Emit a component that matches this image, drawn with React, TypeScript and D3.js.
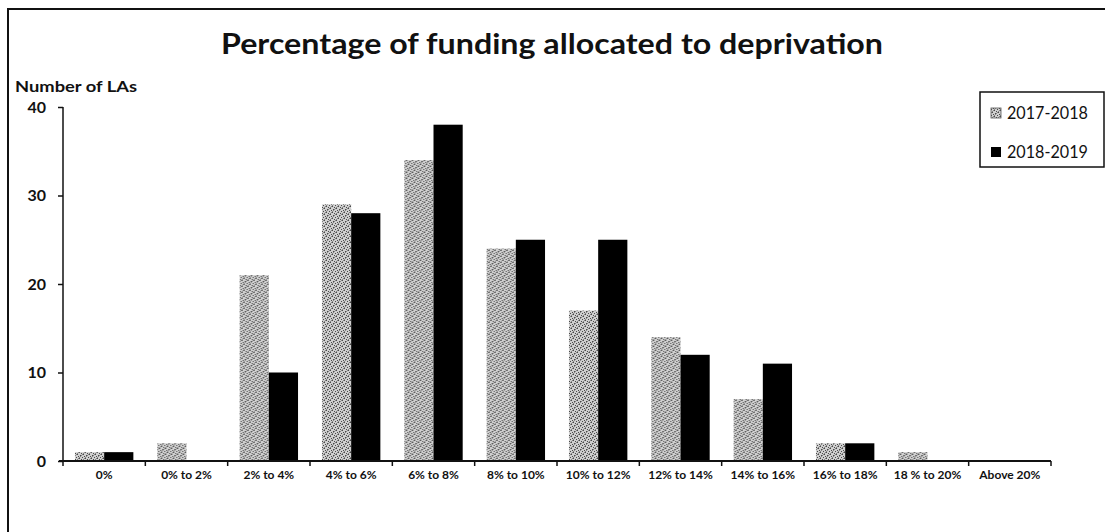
import React, { useEffect, useRef } from 'react';
import * as d3 from 'd3';

const categories = ['0%', '0% to 2%', '2% to 4%', '4% to 6%', '6% to 8%', '8% to 10%', '10% to 12%', '12% to 14%', '14% to 16%', '16% to 18%', '18 % to 20%', 'Above 20%'];
const seriesNames = ['2017-2018', '2018-2019'];
const values2017 = [1, 2, 21, 29, 34, 24, 17, 14, 7, 2, 1, 0];
const values2018 = [1, 0, 10, 28, 38, 25, 25, 12, 11, 2, 0, 0];
const yTicks = [0, 10, 20, 30, 40];

const FONT = 'Lato, "Open Sans", sans-serif';

const App: React.FC = () => {
  const svgRef = useRef<SVGSVGElement>(null);

  useEffect(() => {
    if (!svgRef.current) return;
    const svg = d3.select(svgRef.current);
    svg.selectAll('*').remove();

    const plot = { left: 63, right: 1051, top: 107, bottom: 461 };

    // stipple pattern for the 2017-2018 bars
    const defs = svg.append('defs');
    const pat = defs.append('pattern')
      .attr('id', 'stipple')
      .attr('patternUnits', 'userSpaceOnUse')
      .attr('width', 6)
      .attr('height', 6);
    pat.append('rect').attr('width', 6).attr('height', 6).attr('fill', '#cfcfcf');
    pat.append('path')
      .attr('d', 'M0,6 L6,0 M-1,1 L1,-1 M5,7 L7,5')
      .attr('stroke', '#858585')
      .attr('stroke-width', 1);
    const dots = [[1, 1], [4, 2], [2, 4], [5, 5], [0, 3], [3, 0]];
    dots.forEach(([dx, dy]) => {
      pat.append('rect').attr('x', dx).attr('y', dy).attr('width', 1).attr('height', 1).attr('fill', '#4a4a4a');
    });

    // outer frame
    svg.append('rect')
      .attr('x', 8).attr('y', 9)
      .attr('width', 1110).attr('height', 540)
      .attr('fill', 'white')
      .attr('stroke', '#111')
      .attr('stroke-width', 2);

    // title
    svg.append('text')
      .attr('x', 552).attr('y', 54)
      .attr('text-anchor', 'middle')
      .attr('font-family', FONT)
      .attr('font-weight', 'bold')
      .attr('font-size', 29)
      .attr('textLength', 662)
      .attr('lengthAdjust', 'spacingAndGlyphs')
      .attr('fill', '#111')
      .text('Percentage of funding allocated to deprivation');

    svg.append('text')
      .attr('x', 15).attr('y', 92)
      .attr('font-family', FONT)
      .attr('font-weight', 'bold')
      .attr('font-size', 16)
      .attr('textLength', 122)
      .attr('lengthAdjust', 'spacingAndGlyphs')
      .attr('fill', '#111')
      .text('Number of LAs');

    const x0 = d3.scaleBand<string>()
      .domain(categories)
      .range([plot.left, plot.right])
      .paddingInner(0)
      .paddingOuter(0);

    const x1 = d3.scaleBand<string>()
      .domain(seriesNames)
      .range([0, x0.bandwidth()])
      .paddingInner(0)
      .paddingOuter(0.41);

    const y = d3.scaleLinear()
      .domain([0, 40])
      .range([plot.bottom, plot.top]);

    const rows = categories.map((c, i) => ({ cat: c, vals: [values2017[i], values2018[i]] }));

    const groups = svg.append('g')
      .selectAll('g')
      .data(rows)
      .enter()
      .append('g')
      .attr('transform', d => `translate(${x0(d.cat)},0)`);

    groups.selectAll('rect')
      .data(d => d.vals.map((v, j) => ({ name: seriesNames[j], value: v })))
      .enter()
      .filter(d => d.value > 0)
      .append('rect')
      .attr('x', d => x1(d.name)!)
      .attr('y', d => y(d.value))
      .attr('width', x1.bandwidth())
      .attr('height', d => y(0) - y(d.value))
      .attr('fill', d => (d.name === '2017-2018' ? 'url(#stipple)' : '#000'));

    // y axis
    const yAxis = svg.append('g')
      .attr('transform', `translate(${plot.left},0)`)
      .call(d3.axisLeft(y).tickValues(yTicks).tickSize(5).tickPadding(12).tickFormat(d3.format('d')));
    yAxis.select('.domain').attr('stroke', '#111').attr('stroke-width', 1.5).attr('d', `M0,${plot.top}V${plot.bottom}`);
    yAxis.selectAll('.tick line').attr('stroke', '#111').attr('stroke-width', 1.5);
    yAxis.selectAll('.tick text')
      .attr('font-family', FONT)
      .attr('font-weight', 'bold')
      .attr('font-size', 16)
      .attr('fill', '#111');

    // x axis
    const xAxis = svg.append('g')
      .attr('transform', `translate(0,${plot.bottom})`)
      .call(d3.axisBottom(x0).tickSize(0).tickPadding(9));
    xAxis.select('.domain').attr('stroke', '#111').attr('stroke-width', 2).attr('d', `M${plot.left - 4},0H${plot.right}`);
    xAxis.selectAll('.tick text')
      .attr('font-family', FONT)
      .attr('font-weight', 'bold')
      .attr('font-size', 12)
      .attr('fill', '#111');

    // category boundary ticks
    const bounds = categories.map(c => x0(c)!).concat([plot.right]);
    svg.append('g')
      .selectAll('line')
      .data(bounds)
      .enter()
      .append('line')
      .attr('x1', d => d).attr('x2', d => d)
      .attr('y1', plot.bottom).attr('y2', plot.bottom + 5)
      .attr('stroke', '#111')
      .attr('stroke-width', 1.5);

    // legend
    const lg = svg.append('g');
    lg.append('rect')
      .attr('x', 980).attr('y', 92)
      .attr('width', 124).attr('height', 75)
      .attr('fill', 'white')
      .attr('stroke', '#111')
      .attr('stroke-width', 1.5);
    seriesNames.forEach((name, i) => {
      const cy = 113 + i * 39;
      lg.append('rect')
        .attr('x', 991).attr('y', cy - 5)
        .attr('width', 10).attr('height', 10)
        .attr('fill', i === 0 ? 'url(#stipple)' : '#000')
        .attr('stroke', i === 0 ? '#555' : 'none')
        .attr('stroke-width', 0.8);
      lg.append('text')
        .attr('x', 1007).attr('y', cy)
        .attr('dy', '0.35em')
        .attr('font-family', FONT)
        .attr('font-size', 17)
        .attr('textLength', 81)
        .attr('lengthAdjust', 'spacingAndGlyphs')
        .attr('fill', '#111')
        .text(name);
    });
  }, []);

  return (
    <svg
      ref={svgRef}
      width={1105}
      height={532}
      style={{ position: 'absolute', left: 0, top: 0, background: 'white' }}
    />
  );
};

export default App;
